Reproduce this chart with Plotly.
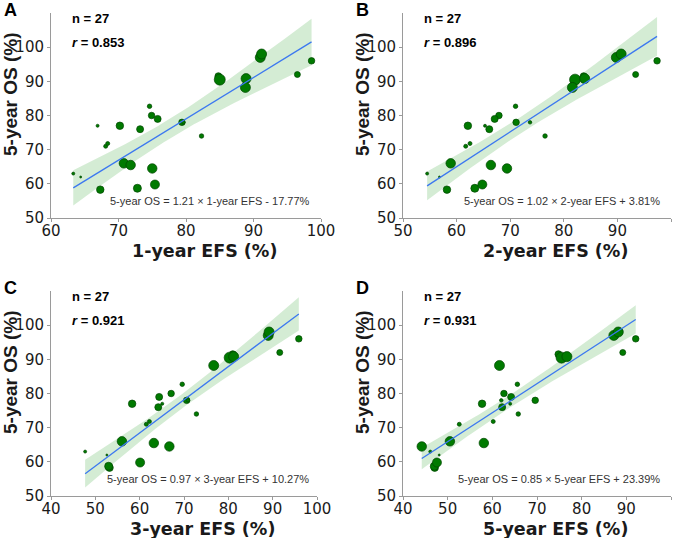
import numpy as np
import plotly.graph_objects as go
from plotly.subplots import make_subplots

# ---------------- data ----------------
os_5yr = [63.0, 62.0, 77.0, 58.3, 71.0, 71.8, 77.0, 66.0, 65.5, 58.7, 76.0, 82.7, 80.0, 64.5,
          59.8, 79.0, 78.0, 78.0, 74.0, 91.5, 90.5, 90.8, 88.2, 97.0, 98.0, 92.0, 96.0]
efs_1yr = [63.3, 64.4, 66.9, 67.3, 68.1, 68.4, 70.2, 70.8, 71.8, 72.8, 73.2, 74.6, 74.9, 75.0,
           75.4, 75.8, 79.4, 79.6, 82.3, 84.8, 85.0, 88.9, 88.8, 91.0, 91.2, 96.5, 98.6]
efs_2yr = [54.5, 56.8, 65.3, 58.2, 61.7, 62.5, 62.1, 58.9, 66.4, 63.4, 66.1, 71.0, 67.9, 69.4,
           64.8, 67.1, 71.1, 73.7, 76.5, 83.7, 82.1, 83.9, 81.6, 89.8, 90.7, 93.4, 97.4]
efs_3yr = [47.7, 52.6, 65.1, 53.2, 61.5, 62.2, 58.3, 56.0, 63.2, 53.0, 64.2, 69.6, 67.1, 66.7,
           60.1, 64.4, 70.6, 70.9, 72.8, 81.0, 80.3, 81.2, 76.7, 89.0, 89.2, 91.6, 95.9]
efs_5yr = [46.1, 48.1, 64.0, 47.1, 52.6, 60.2, 57.7, 50.5, 58.1, 47.0, 62.2, 65.6, 62.6, 44.2,
           47.6, 64.2, 69.6, 62.0, 65.8, 74.8, 75.5, 76.7, 61.6, 87.2, 88.2, 89.2, 92.1]
# relative study weight (bubble diameter estimate)
study_weight = [3, 2, 3, 7.5, 4, 4, 7.5, 9.5, 9.5, 8, 7, 4.5, 6.5, 9.5,
                9, 7, 6.5, 3.5, 4.5, 7, 11, 10, 10, 10, 10, 6, 6.5]

panel_letters = ["A", "B", "C", "D"]
efs_labels = ["1-year", "2-year", "3-year", "5-year"]
r_values = [0.853, 0.896, 0.921, 0.931]
slopes = [1.21, 1.02, 0.97, 0.85]
intercepts = [-17.77, 3.81, 10.27, 23.39]
x_ranges = [[60, 100], [50, 100], [40, 100], [40, 100]]
x_ticks = [[60, 70, 80, 90, 100], [50, 60, 70, 80, 90, 100],
           [40, 50, 60, 70, 80, 90, 100], [40, 50, 60, 70, 80, 90, 100]]
y_ticks = [50, 60, 70, 80, 90, 100]
n_studies = 27
T_CRIT = 2.0595  # t(0.975, df=25)

efs_series = [efs_1yr, efs_2yr, efs_3yr, efs_5yr]

# ---------------- layout geometry (pixels) ----------------
W, H = 685, 538
def px(x):
    return x / W
def py(y):
    return 1 - y / H

# plot area per panel: (left, right, top, bottom) in px
areas = [(51, 321, 13, 218), (403, 671, 13, 218), (51, 317, 291, 496), (403, 671, 291, 496)]

fig = make_subplots(rows=2, cols=2)

GREEN = "rgb(0,122,0)"
BAND = "rgba(40,160,40,0.2)"
LINE = "rgb(60,120,240)"

annotations = []
for i in range(4):
    r, c = i // 2 + 1, i % 2 + 1
    x = np.array(efs_series[i], dtype=float)
    y = np.array(os_5yr, dtype=float)
    b, a = slopes[i], intercepts[i]
    xs = np.linspace(x.min(), x.max(), 80)
    fit = a + b * xs
    resid = y - (a + b * x)
    s = np.sqrt(np.sum(resid ** 2) / (len(x) - 2))
    sxx = np.sum((x - x.mean()) ** 2)
    half = T_CRIT * s * np.sqrt(1 / len(x) + (xs - x.mean()) ** 2 / sxx)

    fig.add_trace(go.Scatter(x=np.concatenate([xs, xs[::-1]]),
                             y=np.concatenate([fit + half, (fit - half)[::-1]]),
                             fill="toself", fillcolor=BAND, line=dict(width=0),
                             mode="lines", hoverinfo="skip", showlegend=False), row=r, col=c)
    fig.add_trace(go.Scatter(x=x, y=y, mode="markers",
                             marker=dict(size=study_weight, color=GREEN, sizemode="diameter",
                                         opacity=1,
                                         line=dict(color="rgb(0,70,0)", width=0.7)),
                             showlegend=False), row=r, col=c)
    fig.add_trace(go.Scatter(x=xs, y=fit, mode="lines", line=dict(color=LINE, width=1.3),
                             showlegend=False), row=r, col=c)

    L, R, T, B = areas[i]
    axn = "" if i == 0 else str(i + 1)
    fig.layout["xaxis" + axn].update(
        domain=[px(L), px(R)], range=x_ranges[i], tickvals=x_ticks[i], automargin=False,
        showgrid=False, zeroline=False, showline=True, linecolor="#9a9a9a", linewidth=1,
        ticks="outside", ticklen=3, tickcolor="#9a9a9a", ticklabelstandoff=-4,
        tickfont=dict(family="DejaVu Sans", size=15, color="#1a1a1a"))
    fig.layout["yaxis" + axn].update(
        domain=[py(B), py(T)], range=[50, 110], tickvals=y_ticks, automargin=False,
        showgrid=False, zeroline=False, showline=True, linecolor="#9a9a9a", linewidth=1,
        ticks="outside", ticklen=3, tickcolor="#9a9a9a",
        tickfont=dict(family="DejaVu Sans", size=15, color="#1a1a1a"))

    # panel letter
    annotations.append(dict(text="<b>%s</b>" % panel_letters[i], x=px(L - 49), y=py(T - 3),
                            xanchor="left", yanchor="middle", showarrow=False,
                            font=dict(family="Liberation Sans", size=18, color="black"),
                            xref="paper", yref="paper"))
    # n and r
    annotations.append(dict(text="<b>n = %d</b>" % n_studies, x=px(L + 19), y=py(T + 5),
                            xanchor="left", yanchor="middle", showarrow=False,
                            font=dict(family="Liberation Sans", size=13, color="black"),
                            xref="paper", yref="paper"))
    annotations.append(dict(text="<b><i>r</i> = %.3f</b>" % r_values[i], x=px(L + 19), y=py(T + 29),
                            xanchor="left", yanchor="middle", showarrow=False,
                            font=dict(family="Liberation Sans", size=13, color="black"),
                            xref="paper", yref="paper"))
    # equation
    sign = "+" if a >= 0 else "-"
    eq = "5-year OS = %.2f × %s EFS %s %.2f%%" % (b, efs_labels[i], sign, abs(a))
    annotations.append(dict(text=eq, x=px(R - 9 if i != 2 else R - 6), y=py(B - 17),
                            xanchor="right", yanchor="middle", showarrow=False,
                            font=dict(family="Liberation Sans", size=11, color="#333333"),
                            xref="paper", yref="paper"))
    # axis titles
    annotations.append(dict(text="<b>%s EFS (%%)</b>" % efs_labels[i], x=px((L + R) / 2 + 18),
                            y=py(B + 33), xanchor="center", yanchor="middle", showarrow=False,
                            font=dict(family="DejaVu Sans", size=17.5, color="#1a1a1a"),
                            xref="paper", yref="paper"))
    annotations.append(dict(text="<b>5-year OS (%)</b>", x=px(L - 41), y=py(T + 81),
                            xanchor="center", yanchor="middle", textangle=-90, showarrow=False,
                            font=dict(family="Liberation Sans", size=19, color="#1a1a1a"),
                            xref="paper", yref="paper"))

fig.update_layout(width=W, height=H, margin=dict(l=0, r=0, t=0, b=0),
                  plot_bgcolor="white", paper_bgcolor="white",
                  annotations=annotations, showlegend=False)

fig.write_html("out.html", config={"displayModeBar": False},
               post_script="document.body.style.margin='0';document.body.style.overflow='hidden';")
